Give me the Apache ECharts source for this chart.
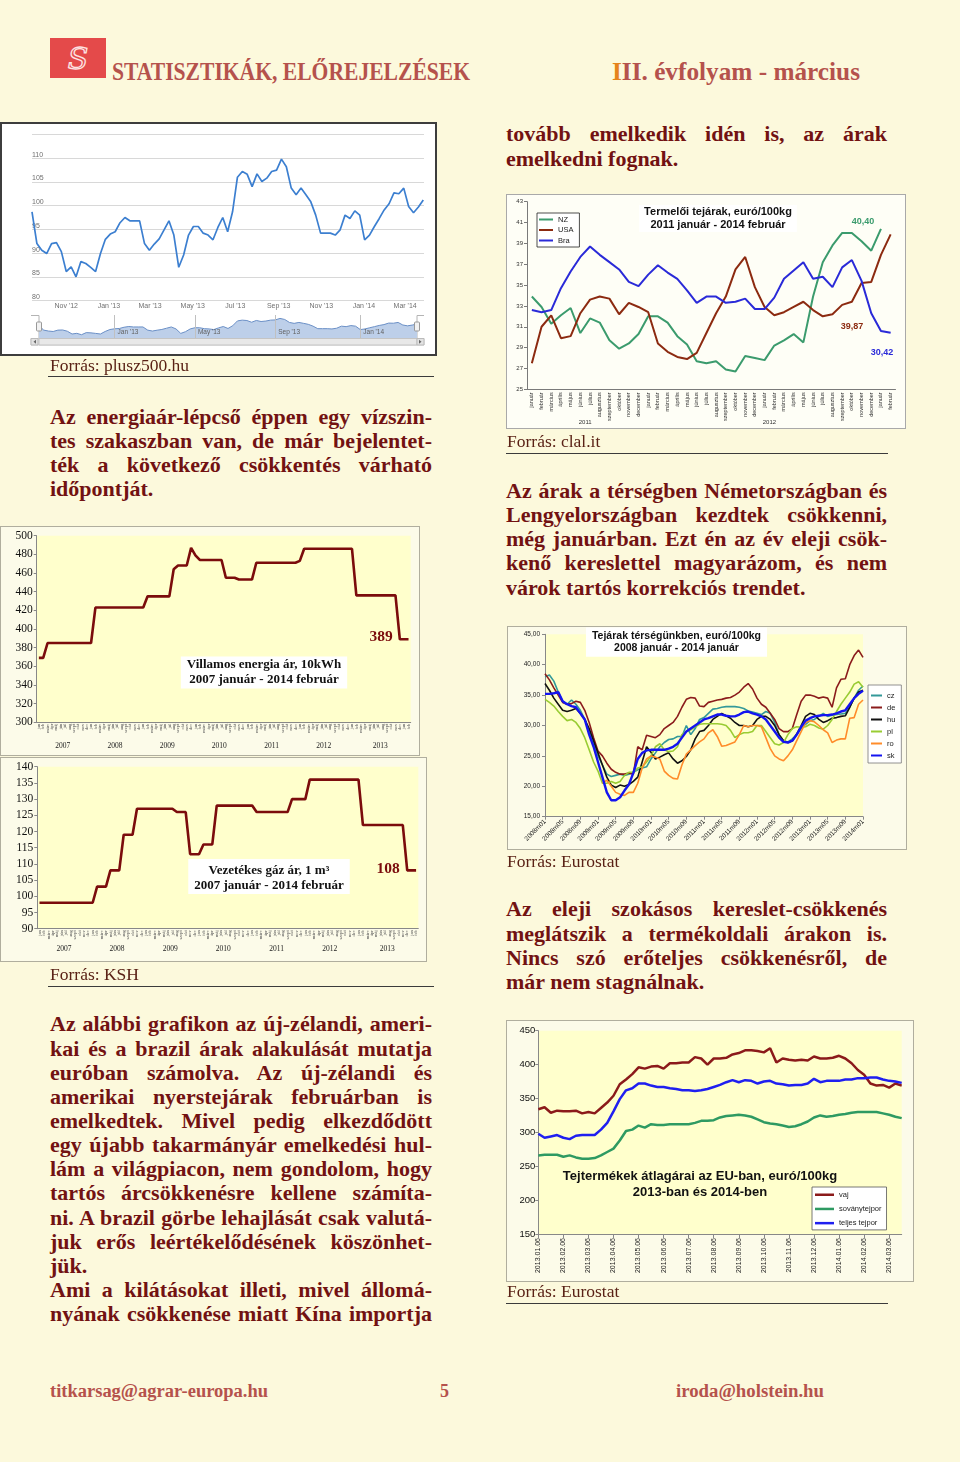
<!DOCTYPE html>
<html lang="hu">
<head>
<meta charset="utf-8">
<title>Statisztikák, előrejelzések</title>
<script src="https://cdn.jsdelivr.net/npm/echarts@6/dist/echarts.min.js"></script>
<style>
html,body{margin:0;padding:0;}
body{width:960px;height:1462px;background:#fcf9dc;position:relative;overflow:hidden;font-family:'Liberation Serif','Times New Roman',serif;}
.para{position:absolute;color:#721212;font-weight:bold;font-size:22px;line-height:24.15px;}
.para div{text-align:justify;text-align-last:justify;}
.para div.l{text-align-last:left;}
.src{position:absolute;color:#5a2216;font-size:17.5px;line-height:20px;white-space:nowrap;}
.rule{position:absolute;height:0;border-top:1.5px solid #3b3b3b;}
.chart{position:absolute;}
.frame{position:absolute;box-sizing:border-box;pointer-events:none;}
.fit{position:absolute;font-weight:bold;color:#b5524c;white-space:nowrap;transform-origin:0 0;display:inline-block;}
.hdr{font-size:26px;line-height:30px;}
.ftr{font-size:18px;line-height:20px;}
</style>
</head>
<body>
<div style="position:absolute;left:50px;top:38px;width:56px;height:40px;background:#e44a4a;">
<svg width="56" height="40" viewBox="0 0 56 40"><text x="28" y="31" text-anchor="middle" font-family="DejaVu Serif" font-style="italic" font-size="30" fill="none" stroke="#fde3e3" stroke-width="1.3">S</text></svg>
</div>
<div class="fit hdr" id="h1" style="left:112px;top:57px">STATISZTIKÁK, ELŐREJELZÉSEK</div>
<div class="fit hdr" id="h2" style="left:612px;top:57px"><span style="color:#e5841c">I</span>II. évfolyam - március</div>

<div class="chart" id="c1" style="left:0;top:122px;width:437px;height:234px;background:#ffffff"></div>
<div class="frame" style="left:0;top:122px;width:437px;height:234px;border:2px solid #3d3d3d"></div>
<div class="src" style="left:50px;top:354.8px">Forrás: plusz500.hu</div>
<div class="rule" style="left:48px;top:376px;width:386px"></div>

<div class="chart" id="c2" style="left:506px;top:194px;width:400px;height:235px;background:#fefef6"></div>
<div class="frame" style="left:506px;top:194px;width:400px;height:235px;border:1px solid #a9a9a9"></div>
<div class="src" style="left:507px;top:431.4px">Forrás: clal.it</div>
<div class="rule" style="left:506px;top:452.5px;width:382px"></div>

<div class="chart" id="c3" style="left:0;top:526px;width:420px;height:230px;background:#fcfbe9"></div>
<div class="frame" style="left:0;top:526px;width:420px;height:230px;border:1px solid #b0ae9e"></div>
<div class="chart" id="c4" style="left:0;top:757px;width:427px;height:205px;background:#fcfbe9"></div>
<div class="frame" style="left:0;top:757px;width:427px;height:205px;border:1px solid #b0ae9e"></div>
<div class="src" style="left:50px;top:963.6px">Forrás: KSH</div>
<div class="rule" style="left:48px;top:986px;width:386px"></div>

<div class="chart" id="c5" style="left:507px;top:626px;width:400px;height:224px;background:#fcfbe9"></div>
<div class="frame" style="left:507px;top:626px;width:400px;height:224px;border:1px solid #b0ae9e"></div>
<div class="src" style="left:507px;top:851.4px">Forrás: Eurostat</div>

<div class="chart" id="c6" style="left:506px;top:1020px;width:408px;height:262px;background:#fcfbe9"></div>
<div class="frame" style="left:506px;top:1020px;width:408px;height:262px;border:1px solid #b0ae9e"></div>
<div class="src" style="left:507px;top:1280.6px">Forrás: Eurostat</div>
<div class="rule" style="left:506px;top:1303px;width:382px"></div>

<div class="fit ftr" id="f1" style="left:50px;top:1381px">titkarsag@agrar-europa.hu</div>
<div class="fit ftr" id="f2" style="left:440px;top:1381px">5</div>
<div class="fit ftr" id="f3" style="left:676px;top:1381px">iroda@holstein.hu</div>

<script>
// ---------------- DATA ----------------
// Chart 1: weekly price (plusz500.hu)
const brentDates = ['2012-09-13','2012-09-20','2012-09-27','2012-10-04','2012-10-11','2012-10-18','2012-10-25','2012-11-01','2012-11-08','2012-11-15','2012-11-22','2012-11-29','2012-12-06','2012-12-13','2012-12-20','2012-12-27',
'2013-01-03','2013-01-10','2013-01-17','2013-01-24','2013-01-31','2013-02-07','2013-02-14','2013-02-21','2013-02-28','2013-03-07','2013-03-14','2013-03-21','2013-03-28','2013-04-04','2013-04-11','2013-04-18','2013-04-25','2013-05-02','2013-05-09','2013-05-16','2013-05-23','2013-05-30','2013-06-06','2013-06-13','2013-06-20','2013-06-27','2013-07-04','2013-07-11','2013-07-18','2013-07-25','2013-08-01','2013-08-08','2013-08-15','2013-08-22','2013-08-29','2013-09-05','2013-09-12','2013-09-19','2013-09-26','2013-10-03','2013-10-10','2013-10-17','2013-10-24','2013-10-31','2013-11-07','2013-11-14','2013-11-21','2013-11-28','2013-12-05','2013-12-12','2013-12-19','2013-12-26',
'2014-01-02','2014-01-09','2014-01-16','2014-01-23','2014-01-30','2014-02-06','2014-02-13','2014-02-20','2014-02-27','2014-03-06','2014-03-13','2014-03-20','2014-03-27'];
const brentValues = [98.7,92.0,90.6,89.9,92.0,92.2,90.3,86.1,87.1,85.0,88.2,87.8,87.0,86.1,89.9,92.9,94.0,94.5,96.4,97.5,
96.8,96.8,96.8,92.0,90.6,91.9,93.0,94.9,96.8,93.8,87.0,89.6,93.8,95.6,95.6,94.2,93.8,92.8,95.4,97.5,
94.5,98.7,106.0,107.2,106.6,104.0,106.7,105.1,105.8,107.2,107.5,109.8,108.2,103.7,102.3,103.7,102.3,100.8,98.0,94.2,
94.2,94.2,93.8,94.9,98.0,97.3,98.9,98.0,92.8,93.8,95.6,97.3,99.1,100.4,102.7,102.5,103.7,99.8,98.5,99.7,101.2];
const monthShortEn = ['Jan','Feb','Mar','Apr','May','Jun','Jul','Aug','Sep','Oct','Nov','Dec'];
const navTickDates = ['2013-01-03','2013-05-02','2013-08-29','2014-01-02'];
const navTickLabels = ["Jan '13","May '13","Sep '13","Jan '14"];

// Chart 2: producer milk prices 2011.01 - 2014.02
const huMonthsFull = ['január','február','március','április','május','június','július','augusztus','szeptember','október','november','december'];
const milkYearLabels = ['2011','2012'];
const nzPrice  = [33.9,32.9,31.3,32.1,32.8,30.4,31.8,31.4,29.7,28.9,29.4,30.3,32.0,32.0,31.4,30.1,29.3,27.7,27.5,27.7,26.9,26.7,28.2,28.0,27.8,29.2,29.7,30.3,29.5,33.9,37.2,38.8,40.0,40.0,39.2,38.3,40.4,null];
const usaPrice = [27.5,31.0,32.1,29.9,30.1,32.3,33.6,33.9,33.7,32.2,33.3,32.9,32.4,29.4,28.6,28.1,27.9,28.5,30.4,32.3,33.9,36.5,37.7,34.8,32.9,32.1,32.4,32.9,33.4,32.6,32.0,32.2,33.1,33.4,35.2,35.3,37.9,39.87];
const braPrice = [32.6,32.4,32.6,34.7,36.3,37.7,38.7,37.9,37.2,36.5,35.3,34.9,36.0,36.9,36.2,35.6,34.5,33.3,33.9,33.9,33.3,33.4,33.7,32.7,32.7,33.8,35.6,36.4,37.2,35.6,35.8,34.8,36.7,37.4,35.4,32.3,30.6,30.42];

// Charts 3-4: utility prices 2007.01 - 2014.02
const utilYears = ['2007','2008','2009','2010','2011','2012','2013'];
const huMonthsShort = ['jan','feb','márc','ápr','máj','jún','júl','aug','szept','okt','nov','dec'];
const elecPrice = [369,369,385,385,385,385,385,385,385,385,385,385,385,
423,423,423,423,423,423,423,423,423,423,423,423,
435,435,435,435,435,435,
464,468,468,468,487,479,
474,474,474,474,474,474,
455,455,455,453,453,453,453,
471,471,471,471,471,471,471,471,471,471,
473,
486,486,486,486,486,486,486,486,486,486,486,486,
436,436,436,436,436,436,436,436,436,436,
389,389,389];
const gasPrice = [98,98,98,98,98,98,98,98,98,98,98,98,98,
103,103,103,108,108,108,119,119,119,
127,127,127,127,127,127,127,127,127,
126,126,126,113,113,113,116,116,116,
128,128,128,128,128,128,128,128,128,
126,126,126,126,126,126,126,126,
130,130,130,130,
136,136,136,136,136,136,136,136,136,136,136,136,
122,122,122,122,122,122,122,122,122,122,
108,108,108];

// Chart 5: regional milk prices 2008m01 - 2014m01
const regionYears = ['2008','2009','2010','2011','2012','2013','2014'];
const czPrice = [38.0,38.3,37.3,35.5,34.0,33.5,34.2,33.5,32.5,31.0,29.0,27.0,25.0,23.5,22.0,21.6,21.8,22.0,21.8,22.0,
22.3,22.7,23.0,23.2,24.5,25.5,26.5,27.2,27.7,27.8,28.2,28.2,30.0,28.5,29.5,31.0,31.3,32.0,32.7,32.8,
33.0,33.1,33.1,33.1,33.0,32.8,32.4,32.2,32.0,31.8,32.3,32.0,30.5,28.5,27.5,27.3,27.8,28.5,29.5,30.2,
30.8,31.0,31.5,32.0,31.5,31.7,31.8,31.9,32.0,33.0,34.5,35.8,36.5];
const dePrice = [38.5,37.5,36.2,35.0,33.8,33.5,33.6,34.0,33.8,32.5,30.5,28.0,25.8,25.0,23.8,22.8,22.3,22.0,22.0,22.2,
22.0,26.5,26.0,28.4,28.2,28.0,28.5,29.5,30.0,30.5,31.5,33.0,34.3,34.6,34.5,33.2,33.1,33.8,34.0,34.2,
34.3,34.5,34.6,35.0,35.5,36.3,36.9,36.0,34.5,33.5,33.0,32.0,31.0,29.5,29.0,29.0,29.5,31.8,34.0,35.0,
35.0,34.8,34.5,34.7,34.5,33.0,36.2,37.6,37.7,40.0,41.5,42.4,41.2];
const huPrice = [36.9,35.8,34.5,33.5,32.5,32.3,32.5,32.8,32.0,31.0,29.5,27.5,25.5,23.5,21.5,20.2,19.8,20.2,20.0,20.3,
20.8,21.5,24.0,26.5,25.6,24.5,24.8,25.2,25.5,24.5,23.8,24.2,24.9,26.0,27.8,29.0,29.2,30.0,31.0,31.5,
32.0,31.6,31.2,30.5,30.0,30.0,29.8,30.0,31.0,31.5,31.5,31.0,30.0,28.5,27.5,27.2,27.5,28.6,30.0,31.5,
32.0,31.8,31.0,30.5,30.8,31.2,31.3,31.5,31.6,33.0,34.5,35.5,35.8];
const plPrice = [34.3,33.8,33.2,32.3,31.5,30.8,31.0,30.5,29.5,28.0,26.0,24.0,22.5,20.5,20.5,20.8,20.5,20.8,21.8,22.3,
22.3,23.0,23.2,24.0,25.0,26.5,27.0,26.0,25.7,25.8,26.5,28.5,29.0,29.3,29.8,30.2,30.3,30.3,30.3,30.3,
30.2,30.0,29.2,28.0,28.5,28.8,28.8,29.0,30.0,30.0,29.0,28.0,27.0,26.8,27.2,28.5,29.5,29.8,29.7,29.8,
30.2,30.0,29.6,29.4,30.0,31.0,32.3,33.5,34.5,35.5,36.8,37.2,36.3];
const roPrice = [null,null,null,null,null,null,null,null,null,null,null,null,null,
20.5,21.0,20.0,19.0,18.7,18.5,19.0,19.0,
20.5,23.0,24.5,25.0,24.8,24.5,22.5,21.8,21.3,21.2,
23.5,25.3,26.0,26.7,27.3,27.8,28.8,29.3,28.2,26.6,
26.7,27.0,27.3,28.5,30.0,29.8,30.0,30.0,29.8,28.0,
26.2,25.0,24.5,24.2,25.0,26.0,27.5,29.0,30.5,30.8,
30.6,30.0,29.3,28.8,27.2,27.6,27.8,27.8,31.2,31.3,
33.5,34.2];
const skPrice = [35.2,35.2,35.3,35.5,34.0,33.5,33.2,33.0,32.0,31.0,28.5,26.5,24.0,21.5,19.0,17.7,17.7,18.2,19.3,20.3,
22.2,24.5,25.5,25.9,26.0,26.0,26.0,26.0,26.2,26.5,27.0,28.0,29.0,29.5,30.0,30.5,31.0,31.2,31.5,31.8,
31.8,31.6,31.5,31.5,31.8,32.2,32.3,32.0,31.8,31.5,31.0,30.0,29.0,28.0,27.3,27.2,27.5,28.5,29.8,30.8,
31.2,31.5,31.6,31.7,31.7,31.8,32.0,32.3,32.5,33.5,34.5,35.2,35.7];

// Chart 6: EU dairy product prices (weekly), ticks every 4 weeks
const dairyTicks = ['2013.01.06','2013.02.06','2013.03.06','2013.04.06','2013.05.06','2013.06.06','2013.07.06','2013.08.06','2013.09.06','2013.10.06','2013.11.06','2013.12.06','2014.01.06','2014.02.06','2014.03.06'];
const butterPrice = [334,337,329,332,331,331,332,328,330,328,336,344,354,371,378,386,396,394,397,398,
394,402,402,403,403,411,409,400,409,409,410,415,417,421,421,420,418,424,403,409,
407,406,407,406,412,409,409,410,413,409,402,392,385,372,369,370,366,372,369];
const smpPrice = [266,267,267,267,264,266,263,261,261,262,266,271,276,288,302,304,310,307,312,311,
311,312,312,312,312,314,317,317,318,322,324,325,326,325,323,319,315,313,312,310,
308,309,312,316,322,325,323,324,326,327,329,330,330,330,330,328,326,323,321];
const wmpPrice = [298,292,294,296,292,290,295,296,296,296,304,314,331,349,362,365,372,372,369,367,
367,365,364,362,362,361,362,364,367,370,374,377,374,377,376,372,375,376,372,371,
369,370,370,372,379,374,376,376,376,378,378,380,380,381,381,378,376,375,373];

// ---------------- TEXT ----------------
const paragraphs = [
 {x:506, top:122.4, w:381, lines:['tovább emelkedik idén is, az árak','emelkedni fognak.'], left:[1]},
 {x:50, top:405, w:382, lines:['Az energiaár-lépcső éppen egy vízszin-','tes szakaszban van, de már bejelentet-','ték a következő csökkentés várható','időpontját.'], left:[3]},
 {x:506, top:479, w:381, lines:['Az árak a térségben Németországban és','Lengyelországban kezdtek csökkenni,','még januárban. Ezt én az év eleji csök-','kenő kereslettel magyarázom, és nem','várok tartós korrekciós trendet.'], left:[4]},
 {x:506, top:897.4, w:381, lines:['Az eleji szokásos kereslet-csökkenés','meglátszik a termékoldali árakon is.','Nincs szó erőteljes csökkenésről, de','már nem stagnálnak.'], left:[3]},
 {x:50, top:1012.4, w:382, lines:['Az alábbi grafikon az új-zélandi, ameri-','kai és a brazil árak alakulását mutatja','euróban számolva. Az új-zélandi és','amerikai nyerstejárak februárban is','emelkedtek. Mivel pedig elkezdődött','egy újabb takarmányár emelkedési hul-','lám a világpiacon, nem gondolom, hogy','tartós árcsökkenésre kellene számíta-','ni. A brazil görbe lehajlását csak valutá-','juk erős leértékelődésének köszönhet-','jük.','Ami a kilátásokat illeti, mivel állomá-','nyának csökkenése miatt Kína importja'], left:[10]}
];
paragraphs.forEach(p => {
  const d = document.createElement('div');
  d.className = 'para';
  d.style.left = p.x + 'px'; d.style.top = p.top + 'px'; d.style.width = p.w + 'px';
  p.lines.forEach((ln, i) => {
    const r = document.createElement('div');
    if (p.left.includes(i)) r.className = 'l';
    r.textContent = ln;
    d.appendChild(r);
  });
  document.body.appendChild(d);
});
function fitWidth(id, w) {
  const el = document.getElementById(id);
  const cw = el.getBoundingClientRect().width;
  if (cw > 0) el.style.transform = 'scaleX(' + (w / cw) + ')';
}
fitWidth('h1', 358); fitWidth('h2', 248); fitWidth('f1', 218); fitWidth('f3', 148);

// ---------------- CHARTS ----------------
function mk(id) { return echarts.init(document.getElementById(id), null, {renderer: 'canvas'}); }
const SANS = 'Liberation Sans';
const SERIF = 'Liberation Serif';

// Chart 1
try {
  const c1 = mk('c1');
  c1.setOption({
    animation: false,
    textStyle: {fontFamily: SANS},
    grid: [{left: 32, top: 12.5, width: 392, height: 166}, {left: 39, top: 193, width: 378, height: 23}],
    xAxis: [
      {type: 'time', gridIndex: 0, min: brentDates[0], max: '2014-03-28',
       minInterval: 61 * 86400000, maxInterval: 61 * 86400000,
       axisLine: {show: false}, axisTick: {show: false}, splitLine: {show: false},
       axisLabel: {fontSize: 7, color: '#707070', margin: 2.5, showMinLabel: false, showMaxLabel: false,
         formatter: function (v) { const d = new Date(v); return monthShortEn[d.getMonth()] + " '" + String(d.getFullYear()).slice(2); }}},
      {type: 'category', gridIndex: 1, data: brentDates, boundaryGap: false, z: 10,
       axisLine: {show: false}, axisTick: {show: false},
       axisLabel: {inside: true, align: 'left', margin: 2, fontSize: 6.5, color: '#606060', padding: [0, 0, 0, 3],
         interval: (i, v) => navTickDates.includes(v), formatter: (v) => navTickLabels[navTickDates.indexOf(v)] || ''},
       splitLine: {show: true, interval: (i, v) => navTickDates.includes(v), lineStyle: {color: '#c0c0c0', width: 1}}}
    ],
    yAxis: [
      {type: 'value', gridIndex: 0, min: 80, max: 115, interval: 5,
       axisLine: {show: false}, axisTick: {show: false},
       axisLabel: {inside: true, verticalAlign: 'bottom', margin: 0, fontSize: 7, color: '#707070', formatter: v => v === 115 ? '' : String(v)},
       splitLine: {lineStyle: {color: '#d8d8d8', width: 1}}},
      {type: 'value', gridIndex: 1, min: 80, max: 115, show: false, splitLine: {show: false}}
    ],
    series: [
      {type: 'line', name: 'Árfolyam', xAxisIndex: 0, yAxisIndex: 0, data: brentDates.map((d, i) => [d, brentValues[i]]),
       symbol: 'none', lineStyle: {color: '#3c7fd0', width: 1.7}},
      {type: 'line', name: 'Navigátor', xAxisIndex: 1, yAxisIndex: 1, data: brentValues, symbol: 'none',
       lineStyle: {color: '#6a8fc6', width: 1}, areaStyle: {color: '#bdcfe9', origin: 'start', opacity: 1}}
    ],
    graphic: [
      {type: 'polyline', shape: {points: [[31, 193.5], [39, 193.5], [39, 216]]}, style: {stroke: '#b4b4b4', fill: null, lineWidth: 1}},
      {type: 'polyline', shape: {points: [[424, 193.5], [417, 193.5], [417, 216]]}, style: {stroke: '#b4b4b4', fill: null, lineWidth: 1}},
      {type: 'rect', z: 20, shape: {x: 36.5, y: 200, width: 5, height: 9, r: 1}, style: {fill: '#f2f2f2', stroke: '#999', lineWidth: 1}},
      {type: 'rect', z: 20, shape: {x: 414.5, y: 200, width: 5, height: 9, r: 1}, style: {fill: '#f2f2f2', stroke: '#999', lineWidth: 1}},
      {type: 'rect', shape: {x: 31, y: 216.5, width: 393, height: 6.5}, style: {fill: '#eeeeee', stroke: '#cfcfcf', lineWidth: 1}},
      {type: 'rect', shape: {x: 39, y: 216.5, width: 378, height: 6.5}, style: {fill: '#e8e8e8', stroke: '#c4c4c4', lineWidth: 1}},
      {type: 'rect', shape: {x: 31, y: 216.5, width: 7, height: 6.5}, style: {fill: '#e2e2e2', stroke: '#bbb', lineWidth: 1}},
      {type: 'rect', shape: {x: 417, y: 216.5, width: 7, height: 6.5}, style: {fill: '#e2e2e2', stroke: '#bbb', lineWidth: 1}},
      {type: 'polygon', shape: {points: [[36, 217.8], [36, 221.8], [33.5, 219.8]]}, style: {fill: '#666'}},
      {type: 'polygon', shape: {points: [[419, 217.8], [419, 221.8], [421.5, 219.8]]}, style: {fill: '#666'}}
    ]
  });
} catch (e) { console.error(e); }

// Chart 2
try {
  const c2 = mk('c2');
  const milkCats = [...huMonthsFull, ...huMonthsFull, ...huMonthsFull, huMonthsFull[0], huMonthsFull[1]];
  c2.setOption({
    animation: false,
    textStyle: {fontFamily: SANS},
    grid: {left: 21, top: 7.7, width: 368.5, height: 187.6},
    legend: {data: ['NZ', 'USA', 'Bra'], orient: 'vertical', left: 31, top: 19, icon: 'rect', itemWidth: 14, itemHeight: 2, itemGap: 1.5,
      padding: [2, 6, 2, 2], backgroundColor: '#ffffff', borderColor: '#222', borderWidth: 0.8,
      textStyle: {fontSize: 7.5, color: '#222', lineHeight: 9}},
    xAxis: [
      {type: 'category', data: milkCats, boundaryGap: true, axisLine: {lineStyle: {color: '#7a7a7a'}},
       axisTick: {interval: 0, length: 28, lineStyle: {color: '#a0a0a0'}},
       axisLabel: {interval: 0, rotate: 90, fontSize: 5.5, color: '#333', margin: 3}},
      {type: 'category', data: milkCats, boundaryGap: true, position: 'bottom', offset: 0, axisLine: {show: false},
       axisTick: {interval: (i) => i === 0 || i === 12, length: 39, lineStyle: {color: '#a0a0a0'}},
       axisLabel: {interval: 0, margin: 30, fontSize: 6, color: '#333', padding: [0, 0, 0, 9.7],
         formatter: (v, i) => i === 5 ? milkYearLabels[0] : (i === 24 ? milkYearLabels[1] : '')}}
    ],
    yAxis: {type: 'value', min: 25, max: 43, interval: 2,
      axisLine: {show: true, lineStyle: {color: '#7a7a7a'}}, axisTick: {show: true, length: 3, lineStyle: {color: '#7a7a7a'}},
      axisLabel: {fontSize: 6, color: '#333', margin: 4}, splitLine: {show: false}},
    series: [
      {type: 'line', name: 'NZ', data: nzPrice, symbol: 'none', lineStyle: {color: '#3b9b6d', width: 2}, itemStyle: {color: '#3b9b6d'}},
      {type: 'line', name: 'USA', data: usaPrice, symbol: 'none', lineStyle: {color: '#8c2a10', width: 2}, itemStyle: {color: '#8c2a10'}},
      {type: 'line', name: 'Bra', data: braPrice, symbol: 'none', lineStyle: {color: '#2a2ad8', width: 2}, itemStyle: {color: '#2a2ad8'}}
    ],
    graphic: [
      {type: 'text', x: 212, y: 11, style: {text: 'Termelői tejárak, euró/100kg\n2011 január - 2014 február', align: 'center', verticalAlign: 'top',
        font: 'bold 11px "Liberation Sans"', fill: '#111', lineHeight: 12.5, backgroundColor: '#ffffff', padding: [1, 5]}},
      {type: 'text', x: 357, y: 28, style: {text: '40,40', align: 'center', verticalAlign: 'middle', font: 'bold 9px "Liberation Sans"', fill: '#3b9b6d'}},
      {type: 'text', x: 346, y: 133, style: {text: '39,87', align: 'center', verticalAlign: 'middle', font: 'bold 9px "Liberation Sans"', fill: '#8c2a10'}},
      {type: 'text', x: 376, y: 159, style: {text: '30,42', align: 'center', verticalAlign: 'middle', font: 'bold 9px "Liberation Sans"', fill: '#2a2ad8'}}
    ]
  });
} catch (e) { console.error(e); }

// Charts 3 & 4 (utility prices)
const utilMonths = [];
utilYears.forEach(y => huMonthsShort.forEach(m => utilMonths.push(y + ' ' + m)));
utilMonths.push('2014 ' + huMonthsShort[0], '2014 ' + huMonthsShort[1]);
function utilYearLabel(v, i) {
  const g = Math.floor(i / 12);
  if (i < 72 && i % 12 === 5) return utilYears[g];
  if (i === 78) return utilYears[6];
  return '';
}
function utilOption(opt) {
  const band = opt.grid.width / utilMonths.length;
  return {
    animation: false,
    textStyle: {fontFamily: SERIF},
    grid: Object.assign({show: true, backgroundColor: '#ffffcc', borderWidth: 0}, opt.grid),
    xAxis: [
      {type: 'category', data: utilMonths, boundaryGap: true, axisLine: {lineStyle: {color: '#888'}},
       axisTick: {interval: 0, length: opt.tickLen, lineStyle: {color: '#aaa'}},
       axisLabel: {interval: 0, rotate: 90, fontSize: 4.5, color: '#555', margin: 1.5, formatter: v => v.split(' ')[1]}},
      {type: 'category', data: utilMonths, boundaryGap: true, position: 'bottom', offset: 0, axisLine: {show: false},
       axisTick: {interval: (i) => i % 12 === 0 && i <= 72, length: opt.yearTickLen, lineStyle: {color: '#aaa'}},
       axisLabel: {interval: 0, margin: opt.yearMargin, fontSize: 7.5, color: '#222', padding: [0, 0, 0, band], formatter: utilYearLabel}}
    ],
    yAxis: {type: 'value', min: opt.min, max: opt.max, interval: opt.interval,
      axisLine: {show: true, lineStyle: {color: '#888'}}, axisTick: {show: true, length: 3, lineStyle: {color: '#888'}},
      axisLabel: {fontSize: 11.5, color: '#111', margin: 4}, splitLine: {show: false}},
    series: [{type: 'line', name: opt.name, data: opt.data, symbol: 'none', lineStyle: {color: '#7b0c0c', width: 2.6}}],
    graphic: opt.graphic
  };
}
try {
  const c3 = mk('c3');
  c3.setOption(utilOption({
    grid: {left: 36.7, top: 9.7, width: 374, height: 186.6}, min: 300, max: 500, interval: 20,
    tickLen: 16, yearTickLen: 28, yearMargin: 20, name: 'Villamos energia ár', data: elecPrice,
    graphic: [
      {type: 'text', x: 264, y: 130.5, style: {text: 'Villamos energia ár, 10kWh\n2007 január - 2014 február', align: 'center', verticalAlign: 'top',
        font: 'bold 13px "Liberation Serif"', fill: '#111', lineHeight: 15, backgroundColor: '#ffffff', padding: [1, 6]}},
      {type: 'text', x: 381, y: 111, style: {text: '389', align: 'center', verticalAlign: 'middle', font: 'bold 15.5px "Liberation Serif"', fill: '#7b0c0c'}}
    ]
  }));
} catch (e) { console.error(e); }
try {
  const c4 = mk('c4');
  c4.setOption(utilOption({
    grid: {left: 37.3, top: 9.7, width: 381, height: 162}, min: 90, max: 140, interval: 5,
    tickLen: 14, yearTickLen: 28, yearMargin: 16.5, name: 'Vezetékes gáz ár', data: gasPrice,
    graphic: [
      {type: 'text', x: 269, y: 102, style: {text: 'Vezetékes gáz ár, 1 m³\n2007 január - 2014 február', align: 'center', verticalAlign: 'top',
        font: 'bold 13px "Liberation Serif"', fill: '#111', lineHeight: 15, backgroundColor: '#ffffff', padding: [4, 6, 1, 6]}},
      {type: 'text', x: 388, y: 112, style: {text: '108', align: 'center', verticalAlign: 'middle', font: 'bold 15.5px "Liberation Serif"', fill: '#7b0c0c'}}
    ]
  }));
} catch (e) { console.error(e); }

// Chart 5
try {
  const c5 = mk('c5');
  const regionMonths = [];
  regionYears.forEach(y => { for (let m = 1; m <= 12; m++) regionMonths.push(y + 'm' + (m < 10 ? '0' : '') + m); });
  regionMonths.length = 73;
  const ser = (name, data, color, w) => ({type: 'line', name, data, symbol: 'none', lineStyle: {color, width: w}, itemStyle: {color}});
  c5.setOption({
    animation: false,
    textStyle: {fontFamily: SANS},
    grid: {left: 38, top: 8.3, width: 318, height: 182.4, show: true, backgroundColor: '#ffffcc', borderWidth: 0},
    legend: {data: ['cz', 'de', 'hu', 'pl', 'ro', 'sk'], orient: 'vertical', left: 361, top: 59, icon: 'rect', itemWidth: 11, itemHeight: 2, itemGap: 3,
      padding: [6, 6, 3, 3], backgroundColor: '#ffffff', borderColor: '#777', borderWidth: 0.8,
      textStyle: {fontSize: 7.5, color: '#222', lineHeight: 9}},
    xAxis: {type: 'category', data: regionMonths, boundaryGap: false, axisLine: {lineStyle: {color: '#888'}},
      axisTick: {interval: 3, length: 3, lineStyle: {color: '#888'}},
      axisLabel: {interval: 3, rotate: 45, fontSize: 6.5, color: '#222', margin: 4}},
    yAxis: {type: 'value', min: 15, max: 45, interval: 5,
      axisLine: {show: true, lineStyle: {color: '#888'}}, axisTick: {show: true, length: 3, lineStyle: {color: '#888'}},
      axisLabel: {fontSize: 6.5, color: '#222', margin: 5, formatter: v => v.toFixed(2).replace('.', ',')}, splitLine: {show: false}},
    series: [
      ser('cz', czPrice, '#339999', 1.6),
      ser('de', dePrice, '#8b1c1c', 1.6),
      ser('hu', huPrice, '#111111', 1.6),
      ser('pl', plPrice, '#99cc33', 1.6),
      ser('ro', roPrice, '#ff8c2a', 1.6),
      ser('sk', skPrice, '#1414f0', 2.4)
    ],
    graphic: [
      {type: 'text', x: 169.5, y: 1.5, style: {text: 'Tejárak térségünkben, euró/100kg\n2008 január - 2014 január', align: 'center', verticalAlign: 'top',
        font: 'bold 10.5px "Liberation Sans"', fill: '#111', lineHeight: 12.6, backgroundColor: '#ffffff', padding: [2, 6]}}
    ]
  });
} catch (e) { console.error(e); }

// Chart 6
try {
  const c6 = mk('c6');
  const dairyCats = [];
  dairyTicks.forEach(t => { for (let k = 0; k < 4; k++) dairyCats.push(k === 0 ? t : t + ' +' + k + 'h'); });
  dairyCats.length = butterPrice.length;
  const ser = (name, data, color) => ({type: 'line', name, data, symbol: 'none', lineStyle: {color, width: 2.5}, itemStyle: {color}});
  c6.setOption({
    animation: false,
    textStyle: {fontFamily: SANS},
    grid: {left: 32.3, top: 10.7, width: 363.4, height: 203.3, show: true, backgroundColor: '#ffffcc', borderWidth: 0},
    legend: {data: ['vaj', 'soványtejpor', 'teljes tejpor'], orient: 'vertical', left: 306, top: 167, icon: 'rect', itemWidth: 19, itemHeight: 2.5, itemGap: 4.7,
      padding: [3, 5, 2, 3], backgroundColor: '#ffffff', borderColor: '#555', borderWidth: 0.8,
      textStyle: {fontSize: 7.5, color: '#222', lineHeight: 9.5}},
    xAxis: {type: 'category', data: dairyCats, boundaryGap: false, axisLine: {lineStyle: {color: '#888'}},
      axisTick: {interval: (i) => i % 4 === 0, length: 4, lineStyle: {color: '#888'}},
      axisLabel: {interval: (i) => i % 4 === 0, rotate: 90, fontSize: 7, color: '#222', margin: 4, formatter: (v, i) => dairyTicks[i / 4] || ''}},
    yAxis: {type: 'value', min: 150, max: 450, interval: 50,
      axisLine: {show: true, lineStyle: {color: '#888'}}, axisTick: {show: true, length: 3, lineStyle: {color: '#888'}},
      axisLabel: {fontSize: 9.5, color: '#111', margin: 3}, splitLine: {show: false}},
    series: [
      ser('vaj', butterPrice, '#8b1a1a'),
      ser('soványtejpor', smpPrice, '#2e9a62'),
      ser('teljes tejpor', wmpPrice, '#1f1ff0')
    ],
    graphic: [
      {type: 'text', x: 194, y: 149, style: {text: 'Tejtermékek átlagárai az EU-ban, euró/100kg\n2013-ban és 2014-ben', align: 'center', verticalAlign: 'top',
        font: 'bold 13px "Liberation Sans"', fill: '#111', lineHeight: 15.5}}
    ]
  });
} catch (e) { console.error(e); }
</script>
</body>
</html>
